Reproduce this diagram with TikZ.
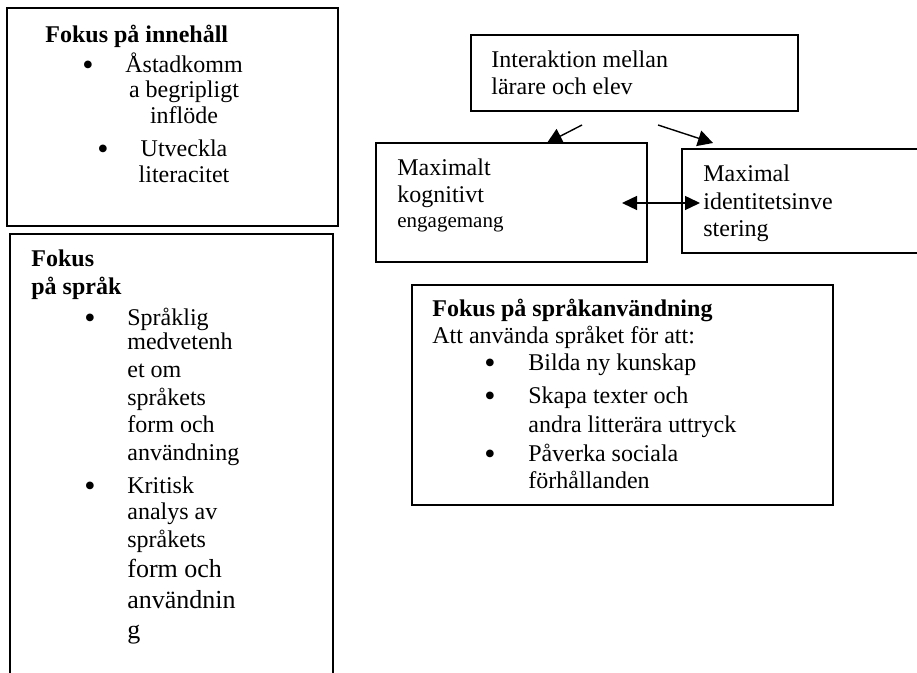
\documentclass[tikz,border=0pt]{standalone}
\usepackage{fontspec}
\setmainfont{Liberation Serif}
\usetikzlibrary{arrows.meta,fit}
\begin{document}
\begin{tikzpicture}[x=0.5pt,y=-0.5pt,
  boxframe/.style={draw=black,line width=1pt,inner sep=0pt},
  thickframe/.style={draw=black,line width=1.4pt,inner sep=0pt},
  openframe/.style={draw=black,line width=1pt},
  txt/.style={inner sep=0pt,anchor=base west,font=\fontsize{12pt}{13.8pt}\selectfont},
  ctxt/.style={txt,anchor=base},
  btxt/.style={txt,font=\fontsize{12pt}{13.8pt}\selectfont\bfseries},
  bigtxt/.style={txt,font=\fontsize{13pt}{15pt}\selectfont},
  smalltxt/.style={txt,font=\fontsize{10.5pt}{12pt}\selectfont},
  bul/.style={txt,font=\fontsize{16pt}{16pt}\selectfont},
  conn/.style={line width=0.7pt,-{Triangle[length=7.5pt,width=8pt]}},
  dconn/.style={line width=0.7pt,{Triangle[length=7.5pt,width=7pt]}-{Triangle[length=7.5pt,width=7pt]}}
]
\useasboundingbox (0,0) rectangle (917,673);

% Box 1: Fokus på innehåll
\node[thickframe,fit={(7,8) (338,226)}] (b1) {};
\node[btxt] (b1t) at (45,43) {Fokus på innehåll};
\node[bul] (b1d1) at (82,76) {•};
\node[ctxt] (b1a) at (184,73) {Åstadkomm};
\node[ctxt] (b1b) at (184,98) {a begripligt};
\node[ctxt] (b1c) at (184,124) {inflöde};
\node[bul] (b1d2) at (97,160) {•};
\node[ctxt] (b1e) at (184,157) {Utveckla};
\node[ctxt] (b1f) at (184,183) {literacitet};

% Box 2: Fokus på språk (open at the bottom)
\draw[openframe] (10,673) -- (10,234) -- (333,234) -- (333,673);
\node[btxt] (b2t1) at (31,267) {Fokus};
\node[btxt] (b2t2) at (31,295) {på språk};
\node[bul] (b2d1) at (84,329) {•};
\node[txt] (b2a) at (127,326) {Språklig};
\node[txt] (b2b) at (127,350) {medvetenh};
\node[txt] (b2c) at (127,378) {et om};
\node[txt] (b2d) at (127,406) {språkets};
\node[txt] (b2e) at (127,433) {form och};
\node[txt] (b2f) at (127,461) {användning};
\node[bul] (b2d2) at (84,497) {•};
\node[txt] (b2g) at (127,494) {Kritisk};
\node[txt] (b2h) at (127,520) {analys av};
\node[txt] (b2i) at (127,548) {språkets};
\node[bigtxt] (b2j) at (127,578) {form och};
\node[bigtxt] (b2k) at (127,609) {användnin};
\node[bigtxt] (b2l) at (127,639) {g};

% Box 3: Interaktion
\node[boxframe,fit={(471,35) (798,111)}] (b3) {};
\node[txt] (b3a) at (491,68) {Interaktion mellan};
\node[txt] (b3b) at (491,95) {lärare och elev};

% Box 4: Maximalt kognitivt engagemang
\node[boxframe,fit={(376,143) (647,262)}] (b4) {};
\node[txt] (b4a) at (397,176) {Maximalt};
\node[txt] (b4b) at (397,203) {kognitivt};
\node[smalltxt] (b4c) at (397,228) {engagemang};

% Box 5: Maximal identitetsinvestering (open at the right)
\draw[openframe] (917,149) -- (682,149) -- (682,253) -- (917,253);
\node[txt] (b5a) at (703,182) {Maximal};
\node[txt] (b5b) at (703,210) {identitetsinve};
\node[txt] (b5c) at (703,237) {stering};

% Box 6: Fokus på språkanvändning
\node[boxframe,fit={(412,285) (833,505)}] (b6) {};
\node[btxt] (b6t) at (432,317) {Fokus på språkanvändning};
\node[txt] (b6s) at (432,344) {Att använda språket för att:};
\node[bul] (b6d1) at (484,374) {•};
\node[txt] (b6a) at (528,371) {Bilda ny kunskap};
\node[bul] (b6d2) at (484,407) {•};
\node[txt] (b6b) at (528,404) {Skapa texter och};
\node[txt] (b6c) at (528,433) {andra litterära uttryck};
\node[bul] (b6d3) at (484,465) {•};
\node[txt] (b6d) at (528,462) {Påverka sociala};
\node[txt] (b6e) at (528,489) {förhållanden};

% Arrows
\coordinate (a1s) at (582,125);
\coordinate (a1e) at (547,143);
\coordinate (a2s) at (658,125);
\coordinate (a2e) at (713,143);
\coordinate (a3s) at (622,203);
\coordinate (a3e) at (700,203);
\draw[conn] (a1s) -- (a1e);
\draw[conn] (a2s) -- (a2e);
\draw[dconn] (a3s) -- (a3e);
\end{tikzpicture}
\end{document}
